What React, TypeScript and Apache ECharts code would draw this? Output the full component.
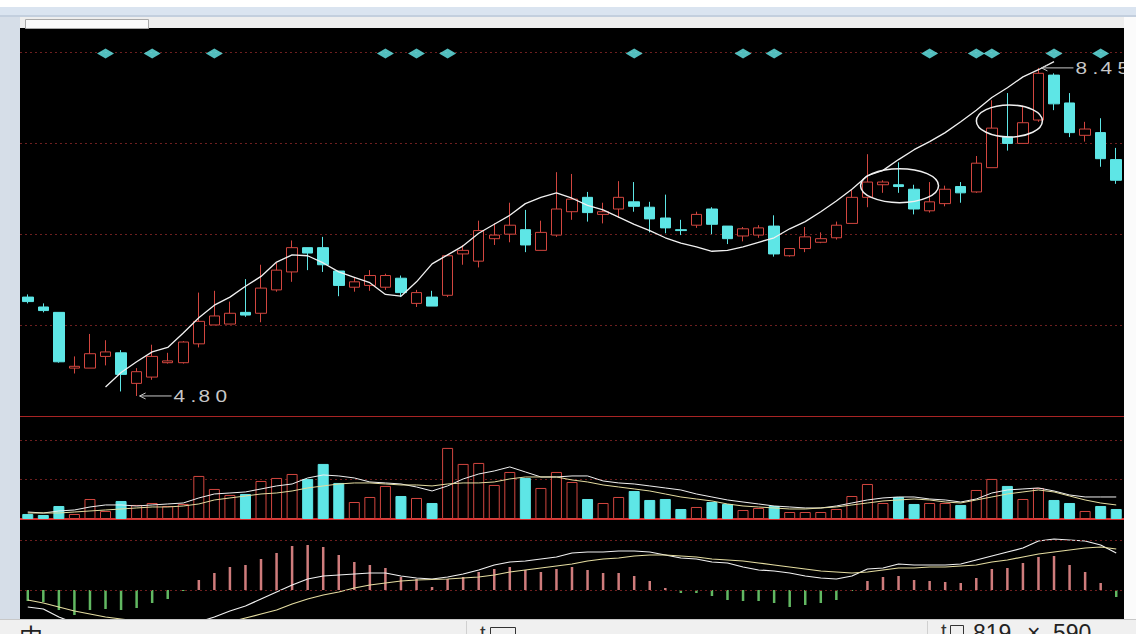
import React, { useEffect, useRef } from "react";
import * as echarts from "echarts";

// ---------- data ----------
const categories: string[] = [
  "1","2","3","4","5","6","7","8","9","10","11","12","13","14","15","16","17","18","19","20",
  "21","22","23","24","25","26","27","28","29","30","31","32","33","34","35","36","37","38","39","40",
  "41","42","43","44","45","46","47","48","49","50","51","52","53","54","55","56","57","58","59","60",
  "61","62","63","64","65","66","67","68","69","70","71",
];

const opens = [
  5.90,5.79,5.73,5.11,5.11,5.24,5.28,4.94,5.01,5.17,
  5.17,5.38,5.59,5.60,5.73,5.72,5.98,6.18,6.45,6.45,
  6.19,6.01,6.03,6.01,6.11,5.83,5.90,5.92,6.38,6.30,
  6.55,6.60,6.65,6.42,6.59,6.85,7.01,6.82,6.88,6.96,
  6.90,6.78,6.65,6.70,6.88,6.69,6.58,6.59,6.69,6.36,
  6.44,6.51,6.56,6.72,7.01,7.15,7.15,7.10,6.86,6.94,
  7.13,7.07,7.34,7.68,7.61,7.87,8.37,8.06,7.70,7.73,
  7.43,
];
const closes = [
  5.85,5.75,5.18,5.13,5.27,5.29,5.04,5.07,5.24,5.19,
  5.40,5.63,5.69,5.72,5.70,6.00,6.20,6.45,6.39,6.26,
  6.03,6.07,6.14,6.14,5.95,5.95,5.80,6.36,6.42,6.64,
  6.59,6.70,6.48,6.62,6.88,6.99,6.84,6.85,7.01,6.91,
  6.77,6.67,6.64,6.82,6.71,6.55,6.66,6.67,6.38,6.44,
  6.57,6.55,6.70,7.01,7.18,7.18,7.13,6.88,6.96,7.10,
  7.06,7.39,7.78,7.61,7.84,8.39,8.05,7.73,7.77,7.44,
  7.20,
];
const lows = [
  5.83,5.73,5.17,5.05,5.11,5.14,4.85,4.80,4.98,5.16,
  5.16,5.34,5.59,5.60,5.68,5.62,5.96,6.07,6.20,6.18,
  5.91,5.96,5.97,5.98,5.90,5.79,5.80,5.90,6.26,6.23,
  6.48,6.51,6.40,6.42,6.57,6.76,6.74,6.72,6.78,6.85,
  6.62,6.61,6.59,6.67,6.60,6.49,6.52,6.56,6.35,6.35,
  6.40,6.50,6.54,6.72,6.90,7.06,7.06,6.82,6.84,6.91,
  6.95,7.06,7.34,7.53,7.61,7.85,7.98,7.68,7.63,7.35,
  7.16,
];
const highs = [
  5.93,5.83,5.73,5.24,5.49,5.42,5.31,5.11,5.37,5.28,
  5.41,5.95,5.97,5.85,6.10,6.26,6.28,6.53,6.45,6.57,
  6.19,6.12,6.20,6.16,6.14,5.98,5.97,6.37,6.48,6.75,
  6.72,6.95,6.87,6.75,7.29,7.27,7.07,6.95,7.19,7.18,
  6.96,7.04,6.76,6.85,6.90,6.69,6.68,6.70,6.81,6.44,
  6.68,6.62,6.74,7.09,7.49,7.20,7.40,7.15,7.18,7.14,
  7.18,7.47,8.09,8.17,8.03,8.45,8.39,8.17,7.85,7.89,
  7.56,
];

// white trend line in the price panel
const trendLine = [
  null,null,null,null,null,4.90,5.06,5.18,5.29,5.34,
  5.50,5.67,5.81,5.90,6.02,6.13,6.29,6.37,6.36,6.28,
  6.18,6.12,6.06,5.93,5.91,6.07,6.27,6.37,6.47,6.61,
  6.71,6.81,6.94,7.01,7.06,7.00,6.92,6.87,6.79,6.71,
  6.64,6.56,6.50,6.46,6.41,6.42,6.46,6.51,6.56,6.66,
  6.74,6.85,6.97,7.10,7.25,7.31,7.43,7.54,7.63,7.73,
  7.85,7.98,8.12,8.23,8.35,8.43,8.52,null,null,null,
  null,
];

// signal diamonds along the top (category indices) and their level
const signalIdx = [5, 8, 12, 23, 25, 27, 39, 46, 48, 58, 61, 62, 66, 69];
const signalLevel = 8.61;

const volumes = [
  1270,1010,3290,1270,5060,2030,4560,3550,4050,3290,
  3800,10890,7600,6080,6330,9620,10380,11390,10130,13930,
  9120,4300,5570,8360,5820,5320,4050,17980,13930,14180,
  8610,11900,10380,7850,11900,9370,5060,4050,5570,7090,
  4810,5060,2530,3040,4300,3800,2280,2790,3290,1770,
  1770,1770,2530,5820,8860,4050,5570,3800,4050,4050,
  3550,7340,10130,8360,5060,7850,4810,4050,2030,3290,
  2530,
];
const volMa5 = [
  1770,1520,2030,2280,3040,3550,3550,3290,3550,3800,
  4050,5320,6330,6580,6840,7600,8360,8860,10380,11140,
  10890,10380,9370,9120,8860,8100,7090,8360,10130,11390,
  12150,13170,11900,10630,10630,10890,10890,9620,9120,8860,
  8360,7850,7340,6330,5570,4810,4300,3800,3290,3040,
  2790,2790,3290,4050,4810,5320,5570,5570,5060,4810,
  4300,5060,6580,7340,7600,7850,7090,6080,5570,5570,
  5570,
];
const volMa10 = [
  1520,1520,1520,1770,2030,2280,2530,2790,3040,3040,
  3290,3800,4810,5320,5820,6330,6580,7090,7850,8360,
  8860,9120,9120,8860,8610,8610,8360,8860,9120,9120,
  9370,10130,10630,10630,10630,9880,9370,8610,8100,7600,
  7090,6330,5570,5060,4560,3800,3290,3040,2790,2530,
  2530,2790,3040,3550,4050,4560,4810,5060,4810,4300,
  4050,4810,5570,6330,6840,7340,6840,5820,4810,4050,
  3550,
];

const macdHist = [
  -0.022,-0.024,-0.040,-0.050,-0.040,-0.038,-0.040,-0.036,-0.026,-0.018,
  -0.002,0.020,0.034,0.046,0.050,0.062,0.074,0.088,0.090,0.086,
  0.070,0.056,0.050,0.044,0.026,0.022,0.006,0.022,0.026,0.036,
  0.042,0.046,0.040,0.036,0.042,0.046,0.040,0.034,0.034,0.028,
  0.018,0.004,-0.006,-0.006,-0.012,-0.020,-0.022,-0.022,-0.026,-0.034,
  -0.030,-0.026,-0.020,-0.002,0.018,0.026,0.028,0.020,0.018,0.016,
  0.014,0.024,0.042,0.044,0.054,0.066,0.068,0.050,0.036,0.014,
  -0.014,
];
const dif = [
  -0.034,-0.038,-0.054,-0.066,-0.068,-0.072,-0.078,-0.080,-0.078,-0.076,
  -0.070,-0.064,-0.054,-0.042,-0.032,-0.018,-0.004,0.010,0.022,0.028,
  0.030,0.032,0.034,0.034,0.028,0.024,0.022,0.026,0.032,0.040,
  0.050,0.056,0.058,0.062,0.066,0.074,0.076,0.076,0.078,0.078,
  0.076,0.070,0.064,0.062,0.056,0.054,0.046,0.040,0.038,0.034,
  0.028,0.024,0.022,0.028,0.042,0.044,0.052,0.050,0.050,0.050,
  0.052,0.060,0.068,0.076,0.084,0.098,0.102,0.100,0.098,0.090,
  0.074,
];
const dea = [
  -0.020,-0.026,-0.034,-0.042,-0.048,-0.054,-0.058,-0.062,-0.066,-0.068,
  -0.070,-0.074,-0.070,-0.064,-0.056,-0.048,-0.040,-0.028,-0.018,-0.010,
  -0.004,0.004,0.010,0.014,0.018,0.020,0.021,0.022,0.024,0.026,
  0.030,0.036,0.040,0.044,0.048,0.052,0.058,0.062,0.064,0.068,
  0.070,0.070,0.068,0.066,0.062,0.060,0.058,0.054,0.050,0.046,
  0.042,0.038,0.036,0.034,0.036,0.040,0.044,0.044,0.046,0.046,
  0.048,0.050,0.056,0.060,0.066,0.072,0.076,0.080,0.084,0.086,
  0.082,
];
const macdLevels = [0, 0.1];

// hand-drawn circles on the chart: anchored at a candle index and a price
const circleMarks = [
  { idx: 56, price: 7.14, dx: 1, rx: 39, ry: 17 },
  { idx: 63, price: 7.86, dx: 2, rx: 33, ry: 16 },
];
const lowMarkIdx = 7;
const highMarkIdx = 65;

// ---------- styles ----------
const RED = "#d2463f";
const CYAN = "#5ee6e6";
const GRIDLINE = "#6e1f1f";
const PINK = "#cf7c7c";
const GREEN = "#62b862";
const WHITE = "#f0f0f0";
const YELLOW = "#e4dca0";
const FONT = "Liberation Sans, Arial, sans-serif";

export default function App() {
  const ref = useRef<HTMLDivElement>(null);

  useEffect(() => {
    if (!ref.current) return;
    const chart = echarts.init(ref.current, undefined, { renderer: "svg" });

    const hiddenCat = (g: number, axisLine: any) => ({
      type: "category",
      gridIndex: g,
      data: categories,
      boundaryGap: true,
      axisTick: { show: false },
      axisLabel: { show: false },
      splitLine: { show: false },
      axisLine,
    });

    const dashed = {
      show: true,
      showMinLine: false,
      showMaxLine: false,
      lineStyle: { color: GRIDLINE, type: [2, 3], width: 1 },
    };

    const option: any = {
      animation: false,
      backgroundColor: "#000",
      textStyle: { fontFamily: FONT },
      grid: [
        { left: 20, right: 12, top: 28, height: 388 },
        { left: 20, right: 12, top: 417, height: 102 },
        { left: 20, right: 12, top: 519, height: 100 },
      ],
      xAxis: [
        hiddenCat(0, { show: true, onZero: false, lineStyle: { color: "#a82424", width: 1 } }),
        hiddenCat(1, { show: true, onZero: false, lineStyle: { color: "#d83030", width: 2 } }),
        hiddenCat(2, { show: false }),
      ],
      yAxis: [
        { type: "value", gridIndex: 0, min: 4.577, max: 8.894, show: false },
        {
          type: "value", gridIndex: 0, min: 0, max: 4.2637, interval: 1, position: "right",
          axisLine: { show: false }, axisTick: { show: false }, axisLabel: { show: false },
          splitLine: dashed,
        },
        {
          type: "value", gridIndex: 1, min: 0, max: 25800, interval: 10000,
          axisLine: { show: false }, axisTick: { show: false }, axisLabel: { show: false },
          splitLine: dashed,
        },
        {
          type: "value", gridIndex: 2, min: -0.058, max: 0.142,
          axisLine: { show: false }, axisTick: { show: false }, axisLabel: { show: false },
          splitLine: { show: false },
        },
      ],
      series: [
        {
          type: "candlestick",
          xAxisIndex: 0,
          yAxisIndex: 0,
          barWidth: 11,
          silent: true,
          data: opens.map((o, i) => [o, closes[i], lows[i], highs[i]]),
          itemStyle: {
            color: "#000",
            color0: CYAN,
            borderColor: RED,
            borderColor0: CYAN,
            borderWidth: 1,
          },
        },
        {
          type: "line",
          xAxisIndex: 0,
          yAxisIndex: 0,
          data: trendLine,
          symbol: "none",
          silent: true,
          lineStyle: { color: WHITE, width: 1.3 },
          z: 4,
        },
        {
          type: "scatter",
          xAxisIndex: 0,
          yAxisIndex: 0,
          data: signalIdx.map((i) => [i, signalLevel]),
          symbol: "diamond",
          symbolSize: [17, 10],
          silent: true,
          itemStyle: { color: "#66eeee" },
          z: 5,
        },
        {
          type: "bar",
          xAxisIndex: 1,
          yAxisIndex: 2,
          barWidth: 11,
          silent: true,
          data: volumes.map((v, i) => ({
            value: v,
            itemStyle:
              closes[i] >= opens[i]
                ? { color: "#000", borderColor: RED, borderWidth: 1 }
                : { color: CYAN, borderColor: CYAN, borderWidth: 1 },
          })),
        },
        {
          type: "line",
          xAxisIndex: 1,
          yAxisIndex: 2,
          data: volMa5,
          symbol: "none",
          silent: true,
          lineStyle: { color: WHITE, width: 1 },
          z: 4,
        },
        {
          type: "line",
          xAxisIndex: 1,
          yAxisIndex: 2,
          data: volMa10,
          symbol: "none",
          silent: true,
          lineStyle: { color: YELLOW, width: 1 },
          z: 4,
        },
        {
          type: "bar",
          xAxisIndex: 2,
          yAxisIndex: 3,
          barWidth: 2.5,
          silent: true,
          data: macdHist.map((v) => ({
            value: v,
            itemStyle: { color: v >= 0 ? PINK : GREEN },
          })),
          markLine: {
            silent: true,
            symbol: "none",
            label: { show: false },
            lineStyle: { color: GRIDLINE, type: [2, 3], width: 1 },
            data: macdLevels.map((y) => ({ yAxis: y })),
          },
        },
        {
          type: "line",
          xAxisIndex: 2,
          yAxisIndex: 3,
          data: dif,
          symbol: "none",
          silent: true,
          lineStyle: { color: WHITE, width: 1.2 },
          z: 4,
        },
        {
          type: "line",
          xAxisIndex: 2,
          yAxisIndex: 3,
          data: dea,
          symbol: "none",
          silent: true,
          lineStyle: { color: YELLOW, width: 1.2 },
          z: 4,
        },
      ],
    };

    chart.setOption(option);

    const toPx = (i: number, v: number) =>
      chart.convertToPixel({ xAxisIndex: 0, yAxisIndex: 0 } as any, [i, v]) as number[];

    const annot: any[] = [];
    const LABEL = "#c8c8c8";
    // wide-spaced label text: each character placed with its own advance
    const charOffsets = [0, 17, 25, 42];
    const arrowLabel = (i: number, v: number) => {
      const [x, y] = toPx(i, v);
      const x0 = x + 3;
      annot.push(
        { type: "line", silent: true, z: 60, shape: { x1: x0, y1: y, x2: x0 + 32, y2: y }, style: { stroke: LABEL, lineWidth: 1 } },
        { type: "polyline", silent: true, z: 60, shape: { points: [[x0 + 6, y - 3], [x0, y], [x0 + 6, y + 3]] }, style: { stroke: LABEL, lineWidth: 1, fill: "none" } }
      );
      const s = v.toFixed(2);
      s.split("").forEach((ch, k) => {
        annot.push({
          type: "text", silent: true, z: 60, x: x0 + 34 + (charOffsets[k] ?? k * 14), y, scaleX: 1.3,
          style: { text: ch, fill: LABEL, font: `16px ${FONT}`, verticalAlign: "middle", align: "left" },
        });
      });
    };
    arrowLabel(lowMarkIdx, lows[lowMarkIdx]);
    arrowLabel(highMarkIdx, highs[highMarkIdx]);

    circleMarks.forEach((c) => {
      const [x, y] = toPx(c.idx, c.price);
      annot.push({
        type: "ellipse", silent: true, z: 60,
        shape: { cx: x + c.dx, cy: y, rx: c.rx, ry: c.ry },
        style: { fill: "none", stroke: WHITE, lineWidth: 1.5 },
      });
    });

    const rect = (x: number, y: number, w: number, h: number, fill: string, stroke?: string) => ({
      type: "rect", silent: true, z: 100,
      shape: { x, y, width: w, height: h },
      style: stroke ? { fill, stroke, lineWidth: 1 } : { fill },
    });
    const ln = (x1: number, y1: number, x2: number, y2: number, stroke: string) => ({
      type: "line", silent: true, z: 101,
      shape: { x1, y1, x2, y2 },
      style: { stroke, lineWidth: 1 },
    });
    const txt = (x: number, y: number, text: string, font: string, fill = "#222") => ({
      type: "text", silent: true, z: 102, x, y,
      style: { text, font, fill, verticalAlign: "top", align: "left" },
    });

    const frame: any[] = [
      rect(0, 0, 1136, 7, "#ffffff"),
      rect(0, 7, 1136, 8, "#dae4f0"),
      rect(0, 15, 1136, 2, "#c3cfde"),
      rect(0, 17, 1136, 11, "#eeeeee"),
      rect(0, 17, 20, 602, "#d6dee8"),
      rect(1124, 17, 12, 602, "#fbfbfb"),
      rect(25.5, 19.5, 123, 9, "#fafafa", "#a8a8a8"),
      rect(0, 619, 1136, 15, "#f0f0f0"),
      ln(0, 619.5, 1136, 619.5, "#c8c8c8"),
      ln(466.5, 621, 466.5, 634, "#d0d0d0"),
      ln(927.5, 621, 927.5, 634, "#d0d0d0"),
      txt(19, 623, "中", "24px Noto Sans CJK SC"),
      txt(480, 623, "t", `20px ${FONT}`, "#333"),
      { ...rect(490.5, 627.5, 25, 10, "none", "#333"), z: 102 },
      txt(941, 621, "t", `20px ${FONT}`, "#333"),
      { ...rect(950.5, 625.5, 13, 12, "none", "#333"), z: 102 },
      txt(973, 621, "819", `23px ${FONT}`, "#222"),
      txt(1027, 621, "×", `23px ${FONT}`, "#222"),
      txt(1053, 621, "590", `23px ${FONT}`, "#222"),
    ];

    chart.setOption({ graphic: { elements: [...annot, ...frame] } });

    return () => chart.dispose();
  }, []);

  return (
    <div
      ref={ref}
      style={{ position: "absolute", left: 0, top: 0, width: 1136, height: 634 }}
    />
  );
}
